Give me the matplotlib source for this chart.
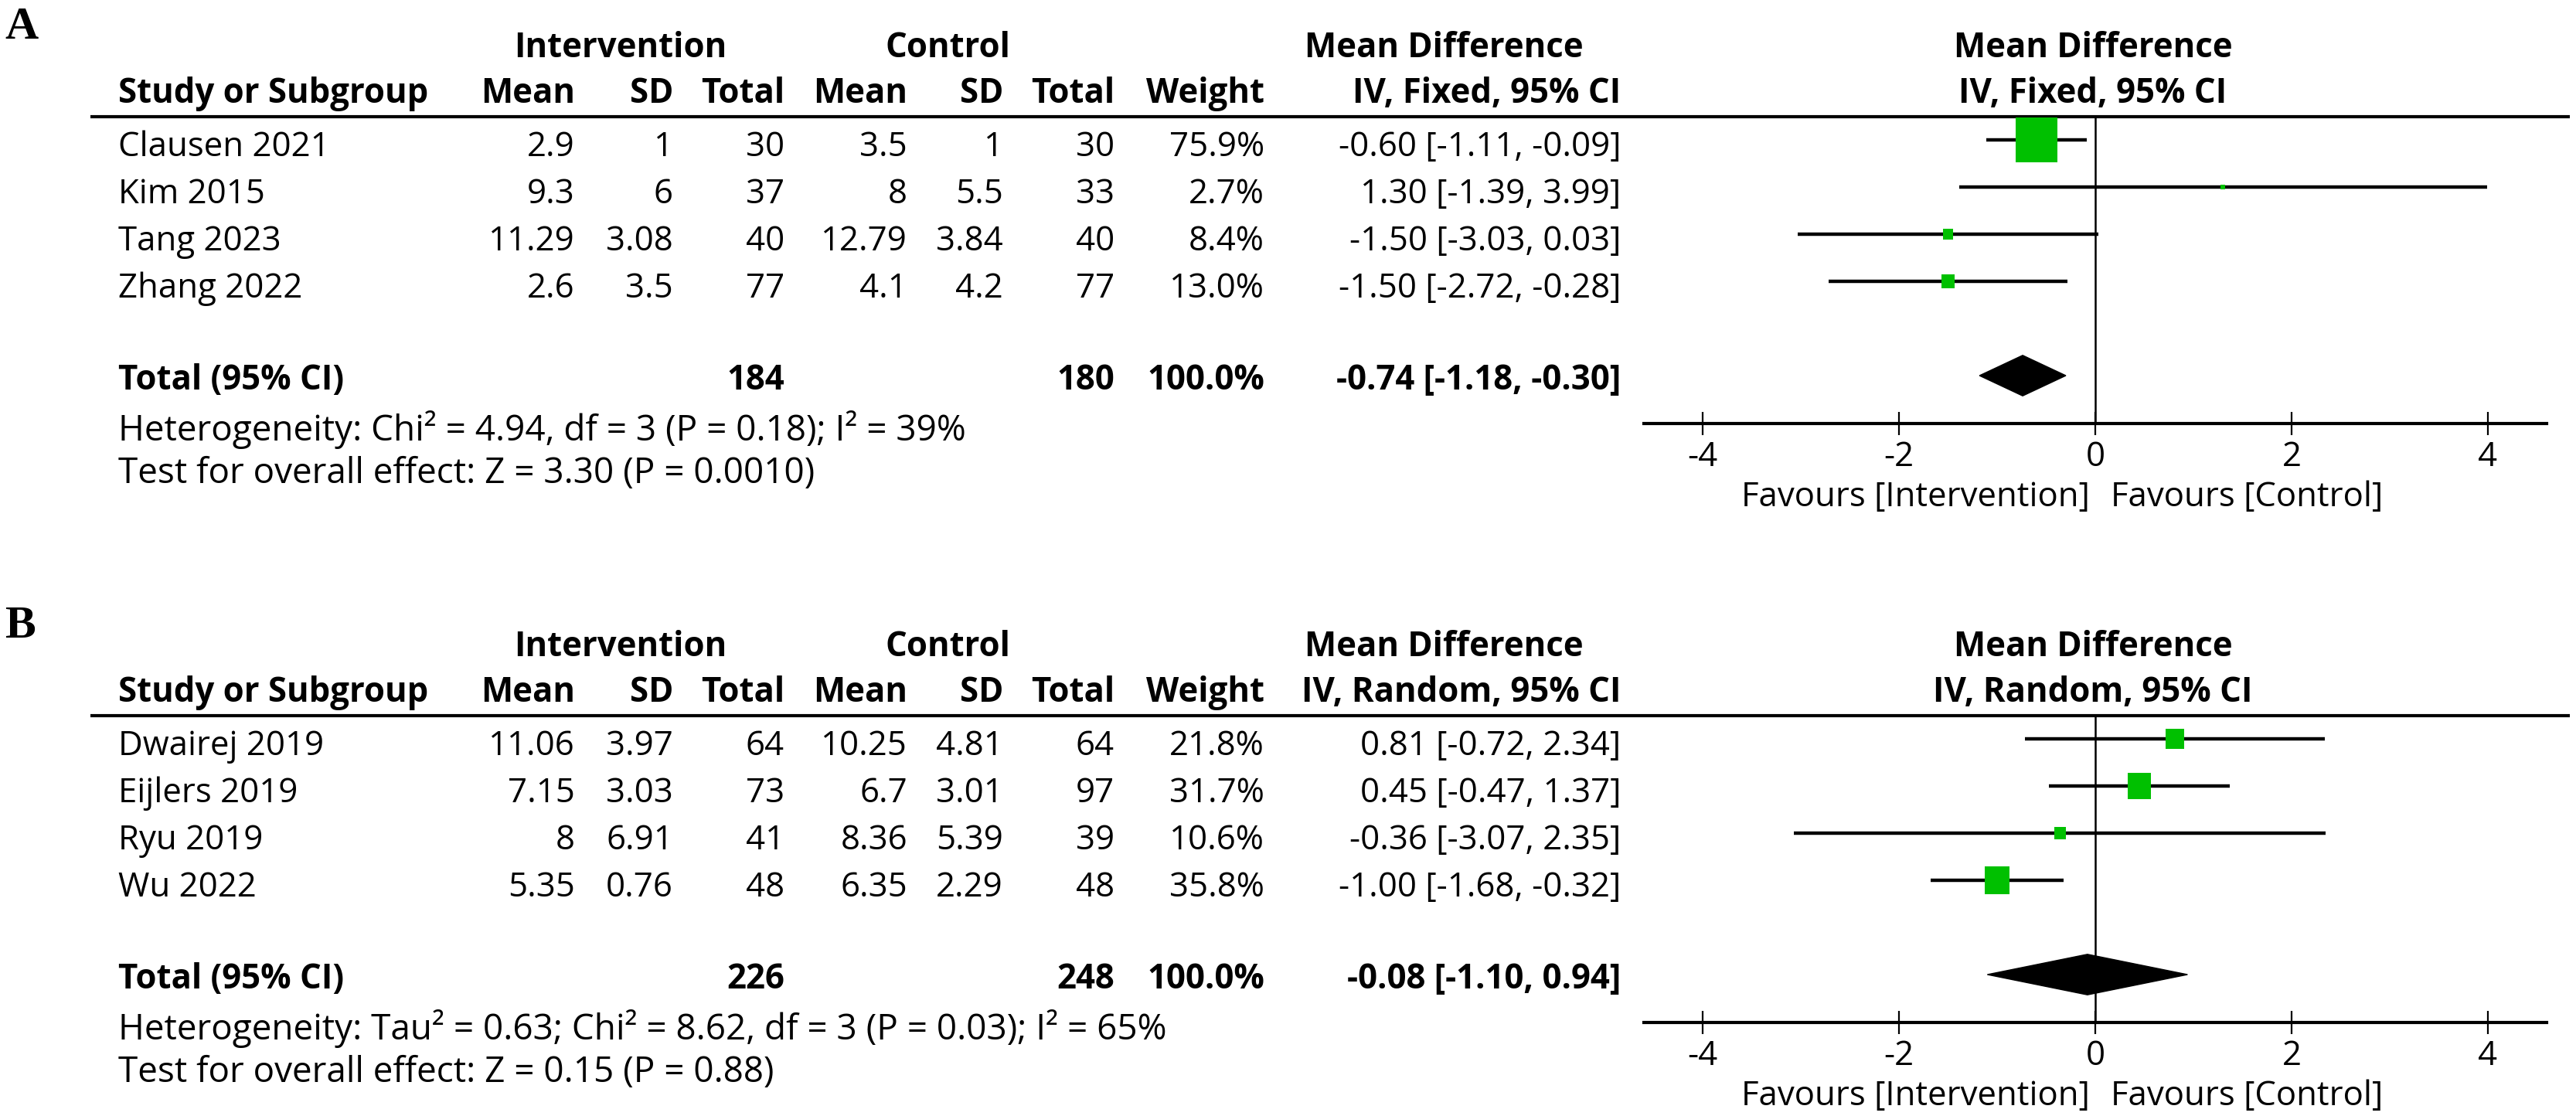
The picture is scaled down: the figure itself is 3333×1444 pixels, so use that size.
import matplotlib
matplotlib.use("Agg")
import matplotlib.pyplot as plt
from matplotlib.transforms import Affine2D, blended_transform_factory
from matplotlib.patches import Polygon

plt.rcParams['font.family'] = ['Open Sans', 'DejaVu Sans']
plt.rcParams['font.size'] = 31.5
plt.rcParams['axes.unicode_minus'] = False

DPI = 100
W, H = 3333, 1444
GREEN = '#00c000'

# ---- panel A data ----
a_studies = ['Clausen 2021', 'Kim 2015', 'Tang 2023', 'Zhang 2022']
a_int_mean = [2.9, 9.3, 11.29, 2.6]
a_int_sd = [1, 6, 3.08, 3.5]
a_int_n = [30, 37, 40, 77]
a_ctl_mean = [3.5, 8, 12.79, 4.1]
a_ctl_sd = [1, 5.5, 3.84, 4.2]
a_ctl_n = [30, 33, 40, 77]
a_weight = [75.9, 2.7, 8.4, 13.0]
a_md = [-0.60, 1.30, -1.50, -1.50]
a_lo = [-1.11, -1.39, -3.03, -2.72]
a_hi = [-0.09, 3.99, 0.03, -0.28]
a_tot_n = [184, 180]
a_tot_weight = 100.0
a_tot_md = [-0.74, -1.18, -0.30]
a_method = 'IV, Fixed, 95% CI'
a_het = 'Heterogeneity: Chi² = 4.94, df = 3 (P = 0.18); I² = 39%'
a_test = 'Test for overall effect: Z = 3.30 (P = 0.0010)'

# ---- panel B data ----
b_studies = ['Dwairej 2019', 'Eijlers 2019', 'Ryu 2019', 'Wu 2022']
b_int_mean = [11.06, 7.15, 8, 5.35]
b_int_sd = [3.97, 3.03, 6.91, 0.76]
b_int_n = [64, 73, 41, 48]
b_ctl_mean = [10.25, 6.7, 8.36, 6.35]
b_ctl_sd = [4.81, 3.01, 5.39, 2.29]
b_ctl_n = [64, 97, 39, 48]
b_weight = [21.8, 31.7, 10.6, 35.8]
b_md = [0.81, 0.45, -0.36, -1.00]
b_lo = [-0.72, -0.47, -3.07, -1.68]
b_hi = [2.34, 1.37, 2.35, -0.32]
b_tot_n = [226, 248]
b_tot_weight = 100.0
b_tot_md = [-0.08, -1.10, 0.94]
b_method = 'IV, Random, 95% CI'
b_het = 'Heterogeneity: Tau² = 0.63; Chi² = 8.62, df = 3 (P = 0.03); I² = 65%'
b_test = 'Test for overall effect: Z = 0.15 (P = 0.88)'

ticks = [-4, -2, 0, 2, 4]

fig = plt.figure(figsize=(W / DPI, H / DPI), dpi=DPI)
px = Affine2D().scale(1.0 / DPI) + fig.dpi_scale_trans

# column positions in pixels (right edges)
STUDY_X = 153
COLS = [744, 871, 1015, 1174, 1298, 1442, 1636, 2097]

# slightly tall box marker, like the reference
BOX = [(-1, -1.1), (1, -1.1), (1, 1.1), (-1, 1.1), (-1, -1.1)]


def fmt(v):
    return f"{v:g}"


def ci(m, l, h):
    return f"{m:.2f} [{l:.2f}, {h:.2f}]"


def panel(letter, top_px, studies, im, isd, inn, cm, csd, cn, wt, md, lo, hi,
          tot_n, tot_wt, tot_md, method, het, test):
    row0 = top_px + 30  # first study row
    rh = 61
    y_top = -30 / rh
    y_bot = (top_px + 397 - row0) / rh
    ax = fig.add_axes([2127 / W, 1 - (top_px + 397) / H, 1168 / W, 397 / H])
    ax.set_xlim(-4.6, 4.6)
    ax.set_ylim(y_bot, y_top)
    for s in ['top', 'left', 'right']:
        ax.spines[s].set_visible(False)
    ax.spines['bottom'].set_linewidth(3)
    ax.set_yticks([])
    ax.set_xticks(ticks)
    ax.tick_params(axis='x', direction='inout', length=21, width=1.6, pad=5)
    ax.patch.set_alpha(0)
    ax.axvline(0, color='black', lw=1.8, zorder=1)

    tr = blended_transform_factory(px, ax.transData)

    def put(x, y, s, ha='right', bold=False, **kw):
        ax.text(x, y, s, transform=tr, ha=ha, va='baseline',
                fontweight='bold' if bold else 'normal', clip_on=False, **kw)

    # panel letter and headers
    put(6, -2.15, letter, ha='left', bold=True, family='Liberation Serif', fontsize=43)
    put(803, -1.754, 'Intervention', ha='center', bold=True)
    put(1226, -1.754, 'Control', ha='center', bold=True)
    put(1868, -1.754, 'Mean Difference', ha='center', bold=True)
    put(2708, -1.754, 'Mean Difference', ha='center', bold=True)
    put(STUDY_X, -0.787, 'Study or Subgroup', ha='left', bold=True)
    for x, s in zip(COLS, ['Mean', 'SD', 'Total', 'Mean', 'SD', 'Total', 'Weight', method]):
        put(x, -0.787, s, bold=True)
    put(2708, -0.787, method, ha='center', bold=True)
    ax.plot([117, 3325], [y_top, y_top], transform=tr, color='black', lw=3,
            clip_on=False, solid_capstyle='butt')

    # study rows
    for i, name in enumerate(studies):
        y = i + 0.34
        put(STUDY_X, y, name, ha='left')
        vals = [fmt(im[i]), fmt(isd[i]), str(inn[i]), fmt(cm[i]), fmt(csd[i]),
                str(cn[i]), f"{wt[i]:.1f}%", ci(md[i], lo[i], hi[i])]
        for x, s in zip(COLS, vals):
            put(x, y, s)
        ax.plot([lo[i], hi[i]], [i, i], color='black', lw=3.2, zorder=2,
                solid_capstyle='butt')
    box_h = [1.1 * 3.2 * w ** 0.65 * 72 / DPI for w in wt]
    ax.scatter(md, range(len(md)), marker=BOX, s=[v ** 2 for v in box_h],
               color=GREEN, linewidths=0, zorder=3)

    # total row
    tr_y = len(studies) + 1
    put(STUDY_X, tr_y + 0.3, 'Total (95% CI)', ha='left', bold=True)
    put(COLS[2], tr_y + 0.3, str(tot_n[0]), bold=True)
    put(COLS[5], tr_y + 0.3, str(tot_n[1]), bold=True)
    put(COLS[6], tr_y + 0.3, f"{tot_wt:.1f}%", bold=True)
    put(COLS[7], tr_y + 0.3, ci(*tot_md), bold=True)
    m, l, h = tot_md
    dh = 0.43
    ax.add_patch(Polygon([(l, tr_y), (m, tr_y - dh), (h, tr_y), (m, tr_y + dh)],
                         closed=True, color='black', zorder=3))

    put(STUDY_X, 6.38, het, ha='left', fontsize=33)
    put(STUDY_X, 7.28, test, ha='left', fontsize=33)
    ax.text(-0.06, 7.77, 'Favours [Intervention]', ha='right', va='baseline',
            transform=ax.transData, clip_on=False)
    ax.text(0.16, 7.77, 'Favours [Control]', ha='left', va='baseline',
            transform=ax.transData, clip_on=False)


panel('A', 151, a_studies, a_int_mean, a_int_sd, a_int_n, a_ctl_mean, a_ctl_sd,
      a_ctl_n, a_weight, a_md, a_lo, a_hi, a_tot_n, a_tot_weight, a_tot_md,
      a_method, a_het, a_test)
panel('B', 926, b_studies, b_int_mean, b_int_sd, b_int_n, b_ctl_mean, b_ctl_sd,
      b_ctl_n, b_weight, b_md, b_lo, b_hi, b_tot_n, b_tot_weight, b_tot_md,
      b_method, b_het, b_test)

fig.savefig('out.png', dpi=DPI, facecolor='white')
